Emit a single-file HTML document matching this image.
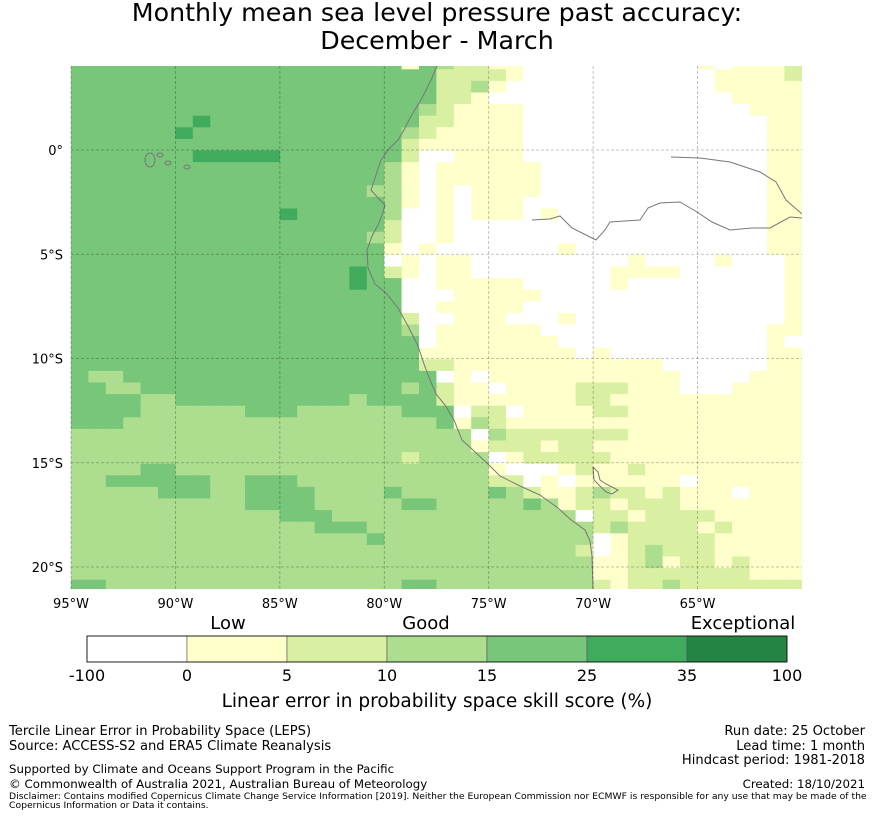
<!DOCTYPE html>
<html><head><meta charset="utf-8"><style>
body{margin:0;background:#fff;font-family:"DejaVu Sans",sans-serif;}
svg text{font-family:"DejaVu Sans","Liberation Sans",sans-serif;fill:#000;}
</style></head><body>
<svg id="chart" width="873" height="816" viewBox="0 0 873 816" xmlns="http://www.w3.org/2000/svg">
<text x="437" y="21" font-size="25.3" text-anchor="middle">Monthly mean sea level pressure past accuracy:</text>
<text x="437" y="49" font-size="25.3" text-anchor="middle">December - March</text>
<defs><clipPath id="mapclip"><rect x="71" y="66" width="731" height="523"/></clipPath></defs>
<g id="cells" clip-path="url(#mapclip)"></g>
<g id="land" clip-path="url(#mapclip)" fill="none" stroke="#777" stroke-width="1">
<polyline points="437,66 432,78 422,98 410,118 404,130 398,140 388,150 381,160 376,175 371,190 378,198 385,205 382,215 378,225 372,236 367,250 368,268 375,284 386,293 398,308 408,326 418,346 424,364 430,380 436,394 445,405 454,420 462,440 474,451 489,465 500,476 520,486 540,495 558,508 570,519 585,530 590,541 592,556 593,589"/>
<polyline points="532,220 550,219 560,216 572,228 590,237 596,240 605,230 610,222 640,220 648,208 660,203 680,202 697,212 712,222 730,230 752,228 770,228 790,217 802,218"/>
<polyline points="671,157 700,158 730,162 760,172 776,182 786,200 802,214"/>
<ellipse cx="150" cy="160" rx="5" ry="7"/>
<ellipse cx="160" cy="155" rx="3" ry="2"/>
<ellipse cx="168" cy="163" rx="3" ry="2"/>
<ellipse cx="187" cy="167" rx="3" ry="2"/>
<polyline points="593,467 598,472 600,480 606,484 612,487 618,490 612,494 606,492 600,486 594,480 593,467"/>
</g>
<g id="grid"></g>
<g id="axes"></g>
<g id="cbar"></g>
<text x="228" y="629" font-size="18" text-anchor="middle">Low</text>
<text x="426" y="629" font-size="18" text-anchor="middle">Good</text>
<text x="743" y="629" font-size="18" text-anchor="middle">Exceptional</text>
<text x="437" y="707" font-size="18.5" text-anchor="middle">Linear error in probability space skill score (%)</text>
<g font-size="13.1">
<text x="9" y="735">Tercile Linear Error in Probability Space (LEPS)</text>
<text x="9" y="750">Source: ACCESS-S2 and ERA5 Climate Reanalysis</text>
<text x="9" y="773" font-size="11.8">Supported by Climate and Oceans Support Program in the Pacific</text>
<text x="9" y="788" font-size="11.8">© Commonwealth of Australia 2021, Australian Bureau of Meteorology</text>
<text x="9" y="799" font-size="9.25">Disclaimer: Contains modified Copernicus Climate Change Service Information [2019]. Neither the European Commission nor ECMWF is responsible for any use that may be made of the</text>
<text x="9" y="808" font-size="9.25">Copernicus Information or Data it contains.</text>
<text x="865" y="735" text-anchor="end">Run date: 25 October</text>
<text x="865" y="750" text-anchor="end">Lead time: 1 month</text>
<text x="865" y="764" text-anchor="end">Hindcast period: 1981-2018</text>
<text x="865" y="788" text-anchor="end" font-size="11.8">Created: 18/10/2021</text>
</g>
</svg>
<script>
const categoryColors = ["#ffffff","#ffffcc","#d9f0a3","#addd8e","#78c679","#41ab5d","#238443"];
const cbTickLabels = ["-100","0","5","10","15","25","35","100"];
const lonTicks = [-95,-90,-85,-80,-75,-70,-65];
const latTicks = [0,-5,-10,-15,-20];
const skillRows = [
"444444444444444444414322110000000000101112",
"4444444444444444444442222100000000000111"+"12",
"4444444444444444444442231000000000000111"+"11",
"4444444444444444444442210000000000000011"+"11",
"4444444444444444444432111100000000000001"+"11",
"4444444544444444444422111100000000000000"+"11",
"4444445444444444444321111100000000000000"+"11",
"4444444444444444444211111100000000000000"+"11",
"4444444555554444444200111100000000000000"+"11",
"4444444444444444443101111110000000000000"+"11",
"4444444444444444443101111110000000000000"+"11",
"4444444444444444433101011110000000000000"+"11",
"4444444444444444443101011100000000000000"+"11",
"4444444444445444443001011101000000000000"+"11",
"4444444444444444442001000000000000000000"+"11",
"4444444444444444432001000000000000000000"+"11",
"4444444444444444441010000000100000000000"+"11",
"4444444444444444440101100000000010000100"+"01",
"4444444444444444542101100000000111100000"+"01",
"4444444444444444544001111100000100000000"+"01",
"4444444444444444444000111110000000000000"+"01",
"4444444444444444444001111100000000000000"+"01",
"4444444444444444444200111000100000000000"+"01",
"4444444444444444444301111110000000000000"+"11",
"4444444444444444444401111111000000000000"+"10",
"4444444444444444444411111111101000000000"+"11",
"4444444444444444444422111111111111000000"+"11",
"4334444444444444444440101111111111100001"+"11",
"4433444444444444444342110111122211100011"+"11",
"4444334444444444344442111111122111111111"+"11",
"4444333333444333333444022011112211111111"+"11",
"4443333333333333333334132111111111111111"+"11",
"3333333333333333333333303222222211111111"+"11",
"3333333333333333333333312221221111111111"+"11",
"3333333333333333333233330122222111111111"+"11",
"3333443333333333333333331000121121111111"+"11",
"3344444433444333333333332201011111101111"+"11",
"3333344433444433334333334321123221211101"+"11",
"3333333333444433333443333343122122211111"+"11",
"3333333333334443333333333333302212222111"+"11",
"3333333333333344433333333333332322221211"+"11",
"3333333333333333343333333333330122222111"+"11",
"3333333333333333333333333333320123222111"+"11",
"3333333333333333333333333333331123122121"+"11",
"3333333333333333333333333333331122222221"+"11",
"4433333333333333333443333333332122322222"+"22"
];

const SVGNS="http://www.w3.org/2000/svg";
const X0=71, X1=802, LON0=-95, LON1=-60;
const xOfLon = lon => X0 + (lon-LON0)/(LON1-LON0)*(X1-X0);
const yOfLat = lat => 150 + (-lat)*20.85;
const cellW=17.4, cellH=11.6, rowTop0=57.7;

const cells=document.getElementById('cells');
skillRows.forEach((row,r)=>{
  for(let c=0;c<row.length;c++){
    const v=+row[c];
    const rect=document.createElementNS(SVGNS,'rect');
    rect.setAttribute('x',(X0+c*cellW).toFixed(2));
    rect.setAttribute('y',(rowTop0+r*cellH).toFixed(2));
    rect.setAttribute('width',(cellW+0.4).toFixed(2));
    rect.setAttribute('height',(cellH+0.4).toFixed(2));
    rect.setAttribute('fill',categoryColors[v]);
    
    
    cells.appendChild(rect);
  }
});

const grid=document.getElementById('grid');
const axes=document.getElementById('axes');
lonTicks.forEach(lon=>{
  const x=xOfLon(lon);
  const l=document.createElementNS(SVGNS,'line');
  l.setAttribute('x1',x);l.setAttribute('x2',x);l.setAttribute('y1',66);l.setAttribute('y2',589);
  l.setAttribute('stroke','rgba(0,0,0,0.3)');l.setAttribute('stroke-dasharray','3,2');l.setAttribute('stroke-width','0.8');
  
  
  grid.appendChild(l);
  const t=document.createElementNS(SVGNS,'text');
  t.setAttribute('x',x);t.setAttribute('y',608);t.setAttribute('font-size','13');t.setAttribute('text-anchor','middle');
  t.textContent=Math.abs(lon)+'°W';
  
  
  axes.appendChild(t);
});
latTicks.forEach(lat=>{
  const y=yOfLat(lat);
  const l=document.createElementNS(SVGNS,'line');
  l.setAttribute('x1',71);l.setAttribute('x2',802);l.setAttribute('y1',y);l.setAttribute('y2',y);
  l.setAttribute('stroke','rgba(0,0,0,0.3)');l.setAttribute('stroke-dasharray','3,2');l.setAttribute('stroke-width','0.8');
  
  
  grid.appendChild(l);
  const t=document.createElementNS(SVGNS,'text');
  t.setAttribute('x',63);t.setAttribute('y',y+5);t.setAttribute('font-size','13');t.setAttribute('text-anchor','end');
  t.textContent= lat===0 ? '0°' : Math.abs(lat)+'°S';
  
  
  axes.appendChild(t);
});

const cbar=document.getElementById('cbar');
const CB0=87, CBW=100;
categoryColors.forEach((col,i)=>{
  const r=document.createElementNS(SVGNS,'rect');
  r.setAttribute('x',CB0+i*CBW);r.setAttribute('y',636);r.setAttribute('width',CBW);r.setAttribute('height',26);
  r.setAttribute('fill',col);r.setAttribute('stroke','#555');r.setAttribute('stroke-width','0.6');
  
  
  cbar.appendChild(r);
});
const frame=document.createElementNS(SVGNS,'rect');
frame.setAttribute('x',CB0);frame.setAttribute('y',636);frame.setAttribute('width',CBW*7);frame.setAttribute('height',26);
frame.setAttribute('fill','none');frame.setAttribute('stroke','#000');frame.setAttribute('stroke-width','0.8');


cbar.appendChild(frame);
cbTickLabels.forEach((lab,i)=>{
  const t=document.createElementNS(SVGNS,'text');
  t.setAttribute('x',CB0+i*CBW);t.setAttribute('y',681);t.setAttribute('font-size','16');t.setAttribute('text-anchor','middle');
  t.textContent=lab;
  
  
  cbar.appendChild(t);
});
</script>
</body></html>
